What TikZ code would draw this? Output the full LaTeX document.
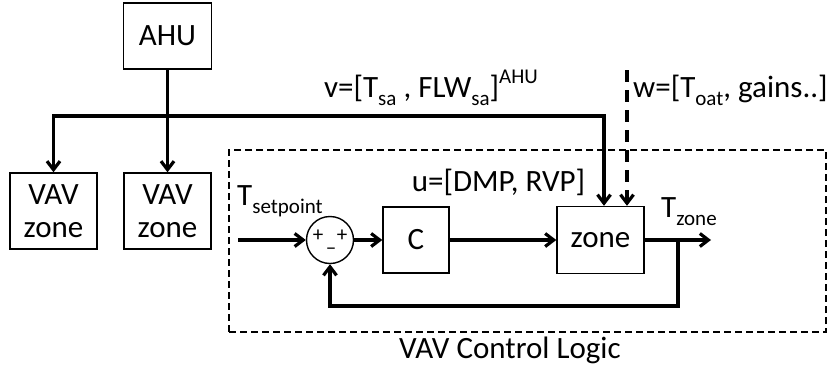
\documentclass[tikz,border=0pt]{standalone}
\usepackage{fontspec}
\setmainfont{Carlito}
\usetikzlibrary{arrows.meta,calc}
\newcommand\lo[1]{\raisebox{-0.28em}{\fontsize{21}{21}\selectfont #1}}
\newcommand\hi[1]{\raisebox{0.42em}{\fontsize{21}{21}\selectfont #1}}
\begin{document}
\begin{tikzpicture}[x=1pt,y=-1pt,
  every node/.style={font=\fontsize{31}{37}\selectfont},
  blk/.style={draw,line width=1.4pt,inner sep=0pt,align=center},
  txt/.style={inner sep=0pt},
  thk/.style={line width=3.2pt},
  tip/.tip={Straight Barb[length=8.5pt,width=13pt,line width=3.2pt]},
  arr/.style={thk,-tip},
  darr/.style={thk,-tip,dash pattern=on 12pt off 8pt},
  logicbox/.style={draw,line width=1.3pt,dash pattern=on 7pt off 4pt,inner sep=0pt}]
\useasboundingbox (0,0) rectangle (832,370);

% dashed frame
\node[logicbox,minimum width=597pt,minimum height=182pt] (logic) at (527.5,241) {};
\node[txt,anchor=base] (logiclbl) at (510,358) {VAV Control Logic};

% AHU and VAV boxes
\node[blk,minimum width=88pt,minimum height=66pt] (ahu) at (167.5,36) {AHU};
\node[blk,minimum width=87pt,minimum height=76pt] (vav1) at (53.5,211) {VAV\\[-4pt]zone};
\node[blk,minimum width=87pt,minimum height=76pt] (vav2) at (167.5,211) {VAV\\[-4pt]zone};

% control loop
\node[draw,circle,line width=1.4pt,minimum size=47pt,inner sep=0pt] (sum) at (330,240) {};
\node[txt,font=\fontsize{21}{21}\selectfont] (pl1) at (318,236) {+};
\node[txt,font=\fontsize{21}{21}\selectfont] (pl2) at (342,236) {+};
\node[txt,font=\fontsize{21}{21}\selectfont] (mn) at (331,251) {–};
\node[blk,minimum width=66pt,minimum height=66pt] (c) at (416,240) {C};
\node[blk,minimum width=87pt,minimum height=67pt] (zone) at (600.5,240) {zone};

% labels
\node[txt,anchor=base] (vlbl) at (431,97) {v=[T\lo{sa} , FLW\lo{sa}]\hi{AHU}};
\node[txt,anchor=base west] (wlbl) at (633,97) {w=[T\lo{oat}, gains..]};
\node[txt,anchor=base] (ulbl) at (498.5,191) {u=[DMP, RVP]};
\node[txt,anchor=base west] (tsp) at (237,205) {T\lo{setpoint}};
\node[txt,anchor=base west] (tz) at (661,217) {T\lo{zone}};

% coordinates
\coordinate (busL) at (53.5,116);
\coordinate (busR) at (604,116);
\coordinate (wtop) at (627,70);
\coordinate (in) at (238,240);
\coordinate (out) at (711,240);
\coordinate (tap) at (678,240);
\coordinate (fb) at (330,306);

% connectors
\draw[arr] (ahu.south) -- (vav2.north);
\draw[thk,tip-tip] (vav1.north) -- (busL) -- (busR) -- (busR |- zone.north);
\draw[darr] (wtop) -- (wtop |- zone.north);
\draw[arr] (in) -- (sum.west);
\draw[arr] (sum.east) -- (c.west);
\draw[arr] (c.east) -- (zone.west);
\draw[arr] (zone.east) -- (out);
\draw[arr] (tap) -- (tap |- fb) -- (fb) -- (sum.south);
\end{tikzpicture}
\end{document}
